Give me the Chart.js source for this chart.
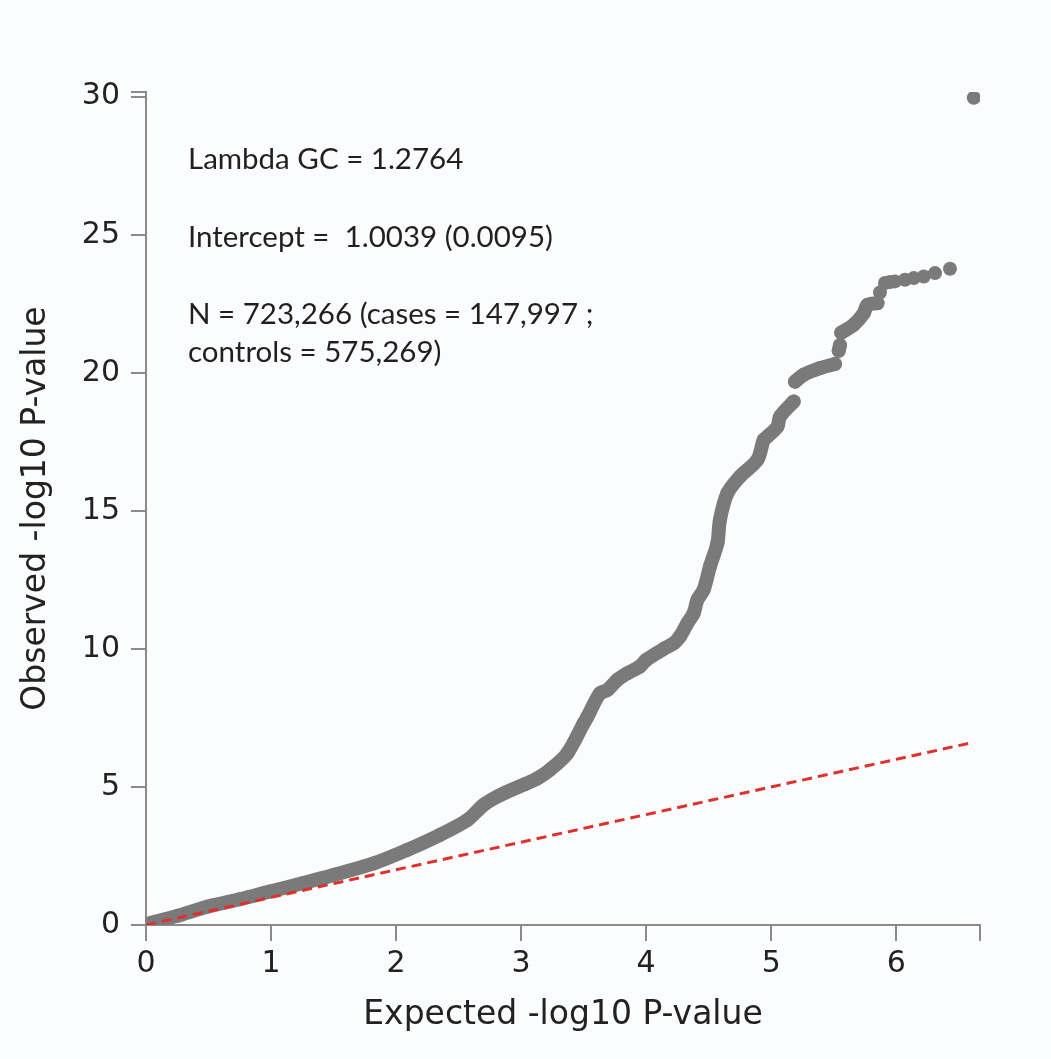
<!DOCTYPE html>
<html>
<head>
<meta charset="utf-8">
<script src="https://cdn.jsdelivr.net/npm/chart.js@4/dist/chart.umd.min.js"></script>
<style>
    html, body { margin: 0; padding: 0; background: #fbfcfd; }
    #wrap { width: 1051px; height: 1059px; position: relative; }
</style>
</head>
<body>
<div id="wrap"><canvas id="qqChart" width="1051" height="1059"></canvas></div>
<script>
// expected vs observed -log10 P (null = visible gap)
const expected = [0.0, 0.25, 0.49, 0.75, 0.99, 1.25, 1.5, 1.82, 2.09, 2.35, 2.57, 2.7, 2.83, 3.03, 3.13,
    3.23, 3.37, 3.5, 3.53, 3.63, 3.69, 3.77, 3.85, 3.95, 4.0, 4.14, 4.22, 4.27, 4.33, 4.38, 4.41,
    4.46, 4.51, 4.57, 4.59, 4.65, 4.75, 4.89, 4.94, 4.97, 5.05, 5.07, 5.18, 5.185,
    5.19, 5.26, 5.39, 5.51, 5.525,
    5.54, 5.55, 5.555,
    5.56, 5.66, 5.74, 5.77, 5.85];
const observed = [0.03, 0.33, 0.66, 0.93, 1.21, 1.51, 1.81, 2.23, 2.72, 3.26, 3.8, 4.35, 4.7, 5.1, 5.31,
    5.62, 6.22, 7.3, 7.54, 8.39, 8.51, 8.88, 9.12, 9.36, 9.6, 10.0, 10.2, 10.45, 10.93, 11.29, 11.78,
    12.14, 12.98, 13.83, 14.67, 15.64, 16.24, 16.85, 17.57, 17.69, 18.05, 18.41, 18.96, null,
    19.68, 19.93, 20.17, 20.32, null,
    20.8, 21.0, null,
    21.45, 21.74, 22.16, 22.46, 22.52];

// the separate dots at the top
const topExpected = [5.87, 5.91, 5.95, 5.99, 6.07, 6.14, 6.22, 6.31, 6.43, 6.62];
const topObserved = [22.91, 23.25, 23.29, 23.31, 23.37, 23.43, 23.49, 23.61, 23.77, 29.96];

// null line y = x
const nullLine = [0, 6.6];

const xTicks = [0, 1, 2, 3, 4, 5, 6];
const yTicks = [0, 5, 10, 15, 20, 25, 30];
const xMax = 6.67;
const yMax = 30.17;

const notes = [
    "Lambda GC = 1.2764",
    "Intercept =  1.0039 (0.0095)",
    "N = 723,266 (cases = 147,997 ;",
    "controls = 575,269)",
];
const noteY = [159, 237, 314, 352];

const pointGray = "rgb(122,122,122)";
const axisGray = "#8a8a8a";
const textDark = "#231f20";
const dejavu = "'DejaVu Sans', Verdana, sans-serif";

const toXY = (xs, ys) => xs.map((x, i) => ({ x: x, y: ys[i] }));

const notesPlugin = {
    id: "notes",
    afterDraw(chart) {
        const ctx = chart.ctx;
        ctx.save();
        ctx.fillStyle = textDark;
        ctx.font = "29.5px Lato";
        ctx.textBaseline = "middle";
        ctx.textAlign = "left";
        notes.forEach((t, i) => ctx.fillText(t, 188, noteY[i]));
        ctx.restore();
    },
};

const ctx = document.getElementById("qqChart").getContext("2d");
new Chart(ctx, {
    type: "scatter",
    data: {
        datasets: [
            {
                label: "null",
                data: toXY(nullLine, nullLine),
                showLine: true,
                borderColor: "#e0302c",
                borderWidth: 3,
                borderDash: [10, 6],
                pointRadius: 0,
                order: 0,
            },
            {
                label: "band",
                data: toXY(expected, observed),
                showLine: true,
                spanGaps: false,
                tension: 0.3,
                borderColor: pointGray,
                backgroundColor: pointGray,
                borderWidth: 14,
                borderCapStyle: "round",
                borderJoinStyle: "round",
                pointRadius: 7,
                pointBorderWidth: 0,
                order: 1,
            },
            {
                label: "top",
                data: toXY(topExpected, topObserved),
                backgroundColor: pointGray,
                pointRadius: 7,
                pointBorderWidth: 0,
                order: 1,
            },
        ],
    },
    options: {
        responsive: false,
        animation: false,
        events: [],
        layout: { padding: { left: 0, right: 71, top: 92, bottom: 0 } },
        plugins: {
            legend: { display: false },
            tooltip: { enabled: false },
        },
        scales: {
            x: {
                type: "linear",
                min: 0,
                max: xMax,
                afterBuildTicks: (axis) => {
                    axis.ticks = xTicks.concat([xMax]).map((v) => ({ value: v }));
                },
                afterFit: (axis) => { axis.height = 134; },
                ticks: {
                    autoSkip: false,
                    maxRotation: 0,
                    padding: 5,
                    color: "#222",
                    font: { family: dejavu, size: 30 },
                    callback: (v) => (xTicks.includes(v) ? v : ""),
                },
                grid: { drawOnChartArea: false, drawTicks: true, tickLength: 16, color: axisGray, lineWidth: 2 },
                border: { display: true, color: axisGray, width: 2 },
                title: {
                    display: true,
                    text: "Expected -log10 P-value",
                    color: "#222",
                    font: { family: dejavu, size: 33 },
                    padding: { top: 0, bottom: 24 },
                    align: "center",
                },
            },
            y: {
                type: "linear",
                min: 0,
                max: yMax,
                afterBuildTicks: (axis) => {
                    axis.ticks = yTicks.concat([yMax]).map((v) => ({ value: v }));
                },
                afterFit: (axis) => { axis.width = 146; },
                ticks: {
                    autoSkip: false,
                    padding: 11,
                    color: "#222",
                    font: { family: dejavu, size: 30 },
                    callback: (v) => (yTicks.includes(v) ? v : ""),
                },
                grid: { drawOnChartArea: false, drawTicks: true, tickLength: 15, color: axisGray, lineWidth: 2 },
                border: { display: true, color: axisGray, width: 2 },
                title: {
                    display: true,
                    text: "Observed -log10 P-value",
                    color: "#222",
                    font: { family: dejavu, size: 33 },
                    padding: { top: 17, bottom: 0 },
                },
            },
        },
    },
    plugins: [notesPlugin],
});
</script>
</body>
</html>
